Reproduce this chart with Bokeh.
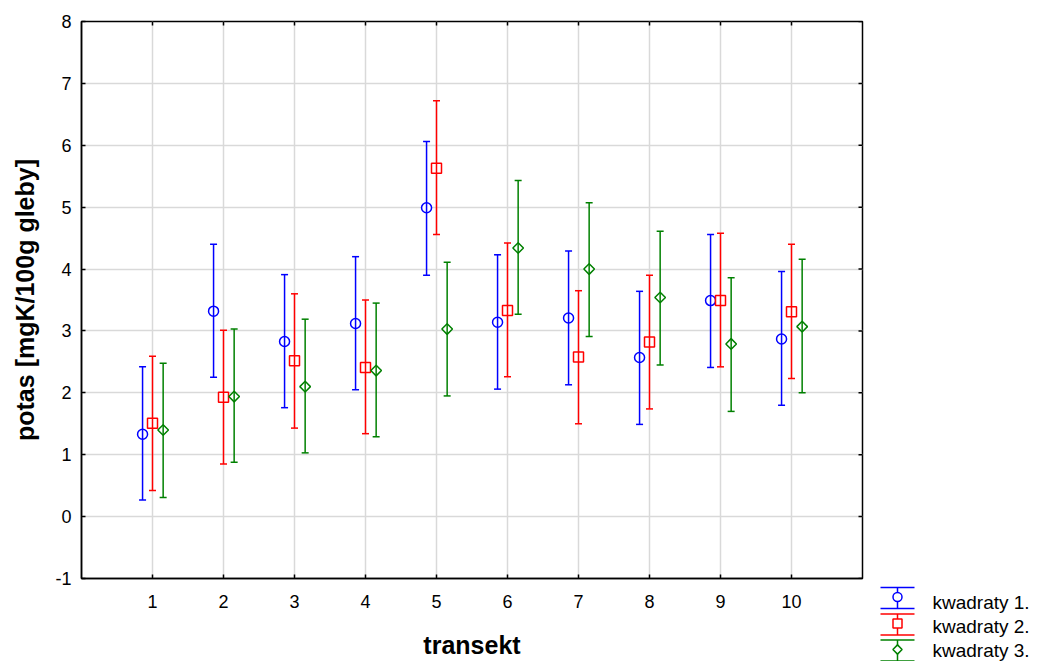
import numpy as np
from bokeh.plotting import figure
from bokeh.models import ColumnDataSource, Whisker, TeeHead, FixedTicker, Spacer
from bokeh.transform import dodge
from bokeh.layouts import row, column
from bokeh.core.properties import value
from bokeh.embed import file_html
from bokeh.resources import INLINE

# ---- data ----
transekt = [1, 2, 3, 4, 5, 6, 7, 8, 9, 10]
series_names = ["kwadraty 1.", "kwadraty 2.", "kwadraty 3."]

k1_mean = [1.33, 3.32, 2.83, 3.12, 4.99, 3.14, 3.21, 2.57, 3.49, 2.87]
k1_low = [0.27, 2.25, 1.76, 2.05, 3.90, 2.06, 2.13, 1.49, 2.41, 1.80]
k1_high = [2.42, 4.40, 3.91, 4.20, 6.06, 4.23, 4.29, 3.64, 4.56, 3.96]

k2_mean = [1.51, 1.93, 2.52, 2.41, 5.63, 3.33, 2.58, 2.82, 3.49, 3.31]
k2_low = [0.42, 0.85, 1.43, 1.34, 4.56, 2.26, 1.50, 1.74, 2.42, 2.23]
k2_high = [2.59, 3.01, 3.60, 3.50, 6.72, 4.42, 3.65, 3.90, 4.58, 4.40]

k3_mean = [1.40, 1.94, 2.10, 2.36, 3.03, 4.34, 4.00, 3.54, 2.79, 3.07]
k3_low = [0.31, 0.88, 1.03, 1.29, 1.95, 3.27, 2.91, 2.45, 1.70, 2.00]
k3_high = [2.48, 3.03, 3.19, 3.45, 4.11, 5.43, 5.07, 4.61, 3.86, 4.16]

y_ticks = [-1, 0, 1, 2, 3, 4, 5, 6, 7, 8]
y_tick_labels = {-1: "-1"}

colors = ["#0000FF", "#FF0000", "#008000"]
markers = ["circle", "square", "square"]
marker_sizes = [10, 10, 7.5]
marker_angles = [0, 0, np.pi / 4]
offsets = [-0.14, 0.0, 0.15]

FONT = "Liberation Sans"
X_MIN, X_MAX, Y_MIN, Y_MAX = 0, 11, -1, 8

p = figure(width=866, height=661, x_range=(X_MIN, X_MAX), y_range=(Y_MIN, Y_MAX),
           title=None, output_backend="svg", toolbar_location=None,
           min_border_left=81, min_border_right=4, min_border_top=21,
           min_border_bottom=82, background_fill_color="white",
           border_fill_color="white")

p.outline_line_color = "black"
p.outline_line_width = 1.5

p.xaxis.ticker = FixedTicker(ticks=transekt)
p.yaxis.ticker = FixedTicker(ticks=y_ticks)
p.yaxis.major_label_overrides = y_tick_labels
p.xgrid.ticker = FixedTicker(ticks=transekt)
p.ygrid.ticker = FixedTicker(ticks=y_ticks)
for g in (p.xgrid, p.ygrid):
    g.grid_line_color = "#d9d9d9"
    g.grid_line_width = 1.5

for ax in (p.xaxis, p.yaxis):
    ax.axis_line_color = "black"
    ax.axis_line_width = 1.5
    ax.major_tick_in = 4
    ax.major_tick_out = 0
    ax.major_tick_line_color = "black"
    ax.major_tick_line_width = 1.5
    ax.minor_tick_line_color = None
    ax.major_label_text_font = FONT
    ax.major_label_text_font_size = "18px"
    ax.major_label_text_color = "black"
    ax.axis_label_text_font = FONT
    ax.axis_label_text_font_size = "25px"
    ax.axis_label_text_font_style = "bold"
    ax.axis_label_text_color = "black"

p.xaxis.axis_label = "transekt"
p.yaxis.axis_label = "potas [mgK/100g gleby]"
p.xaxis.major_label_standoff = 16
p.xaxis.axis_label_standoff = 20
p.yaxis.major_label_standoff = 10
p.yaxis.axis_label_standoff = 13

# inner tick marks on the right and top frame edges
p.ray(x=X_MAX, y=y_ticks, length=4, length_units="screen", angle=np.pi,
      line_color="black", line_width=1.5)
p.ray(x=transekt, y=Y_MAX, length=4, length_units="screen", angle=-np.pi / 2,
      line_color="black", line_width=1.5)

means = [k1_mean, k2_mean, k3_mean]
lows = [k1_low, k2_low, k3_low]
highs = [k1_high, k2_high, k3_high]

for i in range(3):
    src = ColumnDataSource(dict(x=transekt, mean=means[i], low=lows[i], high=highs[i]))
    w = Whisker(source=src, base=dodge("x", offsets[i], range=p.x_range),
                lower="low", upper="high", dimension="height",
                line_color=colors[i], line_width=1.5, level="glyph",
                upper_head=TeeHead(size=7, line_color=colors[i], line_width=1.5),
                lower_head=TeeHead(size=7, line_color=colors[i], line_width=1.5))
    p.add_layout(w)
    p.scatter(x=dodge("x", offsets[i], range=p.x_range), y="mean", source=src,
              marker=markers[i], size=marker_sizes[i], angle=marker_angles[i],
              line_color=colors[i], line_width=1.5, fill_color="white")

# ---- legend panel (pixel-like coordinates of the bottom-right corner) ----
lg = figure(width=175, height=76, x_range=(0, 175), y_range=(76, 0),
            title=None, output_backend="svg", toolbar_location=None,
            x_axis_location=None, y_axis_location=None,
            min_border=0, outline_line_color=None,
            background_fill_color="white", border_fill_color="white")
lg.grid.visible = False

entry_y = [12.5, 39, 65]
text_mid = [17, 41, 64.5]
for i in range(3):
    yc = entry_y[i]
    lg.segment(x0=[14, 14, 31], y0=[yc - 10.5, yc + 10.5, yc - 10.5],
               x1=[48, 48, 31], y1=[yc - 10.5, yc + 10.5, yc + 10.5],
               line_color=colors[i], line_width=1.5)
    lg.scatter(x=[31], y=[yc - 1], marker=markers[i], size=[marker_sizes[i] - 1],
               angle=marker_angles[i], line_color=colors[i], line_width=1.5,
               fill_color="white")
    lg.text(x=[66], y=[text_mid[i]], text=[series_names[i]], text_font=value(FONT),
            text_font_size="19px", text_baseline="middle", text_color="black")

layout = row(p, column(Spacer(width=175, height=585), lg))
open("out.html", "w").write(file_html(layout, INLINE))
